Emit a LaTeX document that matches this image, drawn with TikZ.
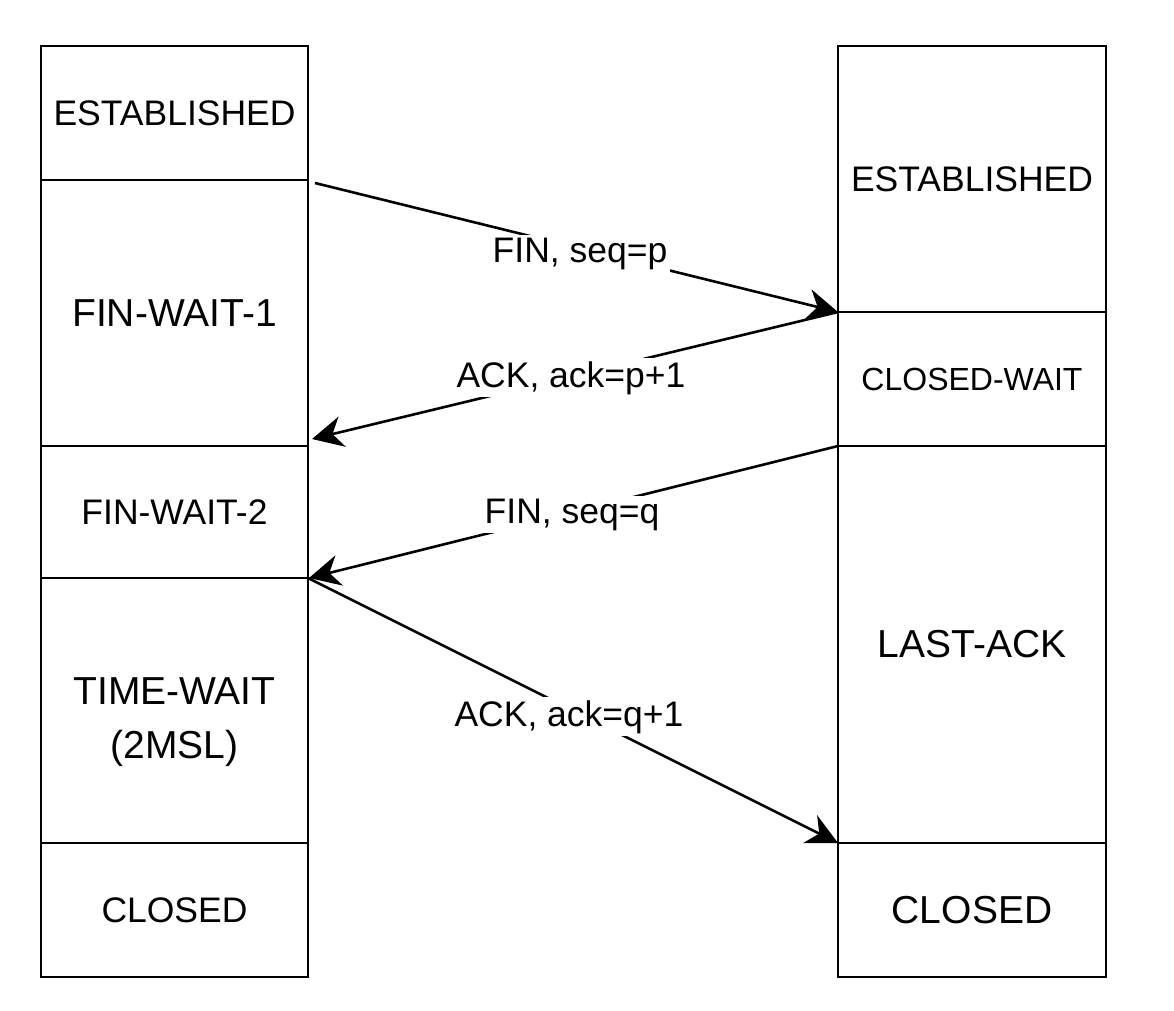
\documentclass[tikz,border=0pt]{standalone}
\usepackage{fontspec}
\setmainfont{Liberation Sans}
\usetikzlibrary{arrows.meta}
\newcommand{\fsA}{\fontsize{35.5}{42}\selectfont}
\newcommand{\fsB}{\fontsize{39}{54}\selectfont}
\newcommand{\fsC}{\fontsize{32}{38}\selectfont}
\tikzset{
  state/.style={draw, line width=2.6pt, outer sep=0pt, inner sep=0pt, align=center, text=black},
  msg/.style={line width=2.6pt, -{Stealth[length=31pt,width=31pt,inset=10pt]}},
  lbl/.style={fill=white, inner sep=3pt, anchor=base, font=\fsA}
}
\begin{document}
\begin{tikzpicture}[x=1pt,y=-1pt]
\useasboundingbox (0,0) rectangle (1174,1010);
% left column
\node[state, minimum width=267pt, minimum height=134pt, font=\fsA] (L1) at (174.5,113) {ESTABLISHED};
\node[state, minimum width=267pt, minimum height=266pt, font=\fsB] (L2) at (174.5,313) {FIN-WAIT-1};
\node[state, minimum width=267pt, minimum height=132pt, font=\fsA] (L3) at (174.5,512) {FIN-WAIT-2};
\node[state, minimum width=267pt, minimum height=265pt, font=\fsB] (L4) at (174.5,710.5) {\rule{0pt}{50pt}TIME-WAIT\\(2MSL)};
\node[state, minimum width=267pt, minimum height=134pt, font=\fsA] (L5) at (174.5,910) {CLOSED};
% right column
\node[state, minimum width=268pt, minimum height=266pt, font=\fsA] (R1) at (972,179) {ESTABLISHED};
\node[state, minimum width=268pt, minimum height=134pt, font=\fsC] (R2) at (972,379) {CLOSED-WAIT};
\node[state, minimum width=268pt, minimum height=397pt, font=\fsB] (R3) at (972,644.5) {LAST-ACK};
\node[state, minimum width=268pt, minimum height=134pt, font=\fsB] (R4) at (972,910) {CLOSED};
% connectors
\coordinate (s1) at ([shift={(7pt,-3pt)}]L1.south east);
\coordinate (t2) at ([shift={(4pt,7pt)}]L2.south east);
\coordinate (t3) at ([shift={(1pt,0pt)}]L3.south east);
\draw[msg] (s1) -- (R1.south west);
\draw[msg] (R1.south west) -- (t2);
\draw[msg] (R2.south west) -- (t3);
\draw[msg] (L3.south east) -- (R3.south west);
% labels
\node[lbl] (m1) at (580,262) {FIN, seq=p};
\node[lbl] (m2) at (571,387) {ACK, ack=p+1};
\node[lbl] (m3) at (572,523) {FIN, seq=q};
\node[lbl] (m4) at (569,726) {ACK, ack=q+1};
\end{tikzpicture}
\end{document}
